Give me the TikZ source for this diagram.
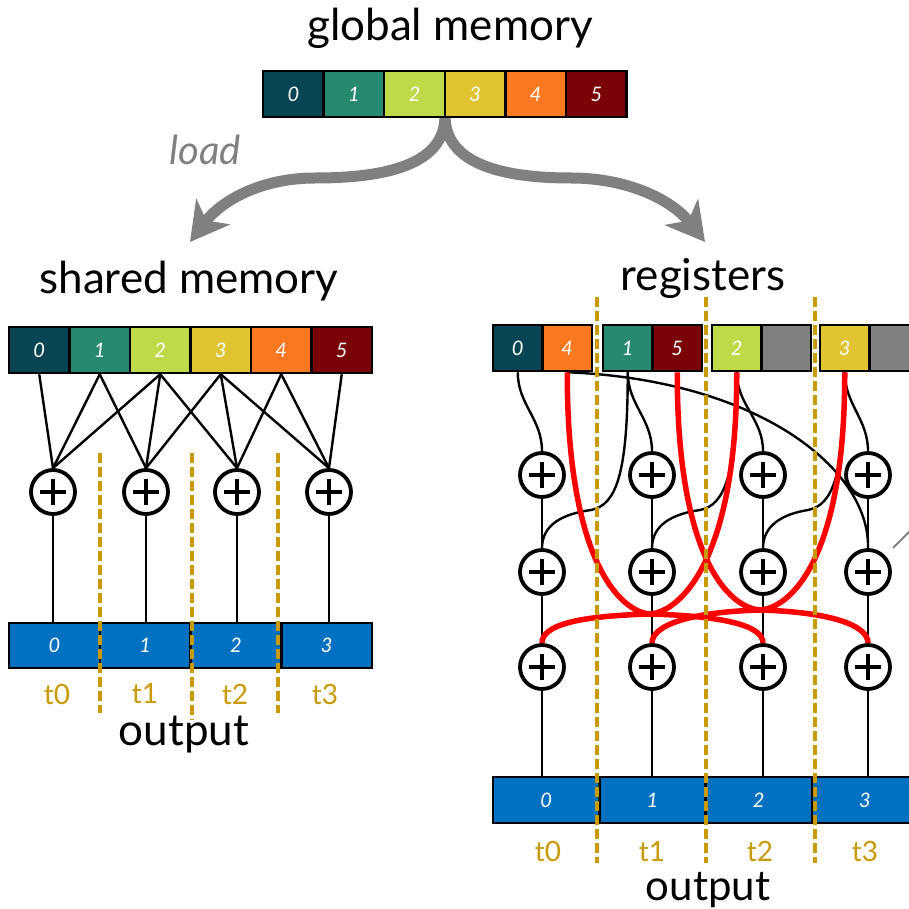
\documentclass[tikz,border=0pt]{standalone}
\usepackage{fontspec}
\setmainfont{Lato}
\usetikzlibrary{arrows.meta}
\definecolor{c0}{HTML}{084554}
\definecolor{c1}{HTML}{278A70}
\definecolor{c2}{HTML}{BEDA48}
\definecolor{c3}{HTML}{E0C431}
\definecolor{c4}{HTML}{FC7821}
\definecolor{c5}{HTML}{7A0308}
\definecolor{outblue}{HTML}{0070C0}
\definecolor{gold}{HTML}{C89A06}
\definecolor{midgray}{HTML}{808080}
\pgfdeclarelayer{back}
\pgfdeclarelayer{front}
\pgfsetlayers{back,main,front}
\tikzset{
  cell/.style={draw=black, line width=2.5pt, minimum width=60.6pt, minimum height=46pt, inner sep=0pt,
    font=\fontsize{20}{20}\selectfont\itshape, text=white},
  rcell/.style={cell, minimum width=49.5pt},
  ocell/.style={cell, fill=outblue},
  title/.style={font=\fontsize{44}{44}\selectfont, text=black, inner sep=0pt},
  tlabel/.style={font=\fontsize{28}{28}\selectfont, text=gold, inner sep=0pt},
  plusnode/.style={circle, draw=black, fill=white, line width=3.8pt, minimum size=44pt, inner sep=0pt,
    path picture={\draw[line width=3.8pt]
      ([xshift=-13pt]path picture bounding box.center) -- ([xshift=13pt]path picture bounding box.center)
      ([yshift=-13pt]path picture bounding box.center) -- ([yshift=13pt]path picture bounding box.center);}},
  wire/.style={draw=black, line width=2.4pt},
  redwire/.style={draw=red, line width=5.5pt},
  tdash/.style={draw=gold, line width=3.5pt, dash pattern=on 9.5pt off 4.5pt},
  loadarrow/.style={draw=midgray, line width=11pt, -{Stealth[length=38pt,width=42pt,inset=11pt]}}
}
\begin{document}
\begin{tikzpicture}[x=1pt,y=-1pt]
\useasboundingbox (0,0) rectangle (909,909);
\clip (0,0) rectangle (909,909);

% titles
\node[title] (tglob) at (450,28) {global memory};
\node[title] (tshared) at (189,281) {shared memory};
\node[title] (treg) at (703,278) {registers};
\node[title] (toutl) at (184,735) {output};
\node[title, font=\fontsize{42}{42}\selectfont, anchor=base] (toutr) at (708,900) {output};
\node[font=\fontsize{40}{40}\selectfont\itshape, text=midgray] (tload) at (205,150) {load};

% global memory
\foreach \i in {0,...,5}{
  \node[cell, fill=c\i] (g\i) at ({263+60.6*(\i+0.5)},94) {\i};
}
% shared memory
\foreach \i in {0,...,5}{
  \node[cell, fill=c\i] (s\i) at ({9+60.5*(\i+0.5)},350) {\i};
}
% registers
\node[rcell, fill=c0] (rv0) at (517.75,348) {0};
\node[rcell, fill=c4] (rv4) at (567.25,348) {4};
\node[rcell, fill=c1] (rv1) at (627.75,348) {1};
\node[rcell, fill=c5] (rv5) at (677.25,348) {5};
\node[rcell, fill=c2] (rv2) at (736.75,348) {2};
\node[rcell, fill=midgray] (rvx) at (786.25,348) {};
\node[rcell, fill=c3] (rv3) at (844.75,348) {3};
\node[rcell, fill=midgray] (rvy) at (894.25,348) {};

% left output
\foreach \i in {0,...,3}{
  \node[ocell, minimum width=90.75pt, minimum height=45pt] (ol\i) at ({9+90.75*(\i+0.5)},645.5) {\i};
}
% right output
\foreach \i in {0,...,3}{
  \node[ocell, minimum width=106.25pt] (or\i) at ({493+106.25*(\i+0.5)},800) {\i};
}

% left plus nodes
\node[plusnode] (p0) at (53,492) {};
\node[plusnode] (p1) at (146,492) {};
\node[plusnode] (p2) at (237,492) {};
\node[plusnode] (p3) at (329,492) {};

% right plus nodes
\foreach \r/\y in {1/475,2/572,3/667}{
  \node[plusnode] (r\r0) at (542,\y) {};
  \node[plusnode] (r\r1) at (652,\y) {};
  \node[plusnode] (r\r2) at (763,\y) {};
  \node[plusnode] (r\r3) at (868,\y) {};
}

% thread labels
\node[tlabel] (lt0) at (57,694) {t0};
\node[tlabel] (lt1) at (145,694) {t1};
\node[tlabel] (lt2) at (235,694) {t2};
\node[tlabel] (lt3) at (325,694) {t3};
\node[tlabel, anchor=base] (rt0) at (548,861) {t0};
\node[tlabel, anchor=base] (rt1) at (652,861) {t1};
\node[tlabel, anchor=base] (rt2) at (760,861) {t2};
\node[tlabel, anchor=base] (rt3) at (865,861) {t3};

\begin{pgfonlayer}{back}
% load arrows
\draw[loadarrow] (445,116) .. controls (445,165) and (385,178) .. (315,178) .. controls (262,178) and (222,200) .. (190,242);
\draw[loadarrow] (445,116) .. controls (445,165) and (505,178) .. (571,178) .. controls (628,178) and (672,200) .. (705,242);

% left wires
\foreach \c/\a/\b/\d in {0/0/1/2, 1/1/2/3, 2/2/3/4, 3/3/4/5}{
  \draw[wire] (s\a.south) -- (p\c.north);
  \draw[wire] (s\b.south) -- (p\c.north);
  \draw[wire] (s\d.south) -- (p\c.north);
  \draw[wire] (p\c.south) -- (p\c.south |- ol\c.north);
}

% right wires: registers to row 1
\draw[wire] (rv0.south) to[out=-90,in=90] (r10.north);
\draw[wire] (rv1.south) to[out=-90,in=90] (r11.north);
\draw[wire] (rv2.south) to[out=-90,in=90] (r12.north);
\draw[wire] (rv3.south) to[out=-90,in=90] (r13.north);
% verticals
\foreach \k in {0,...,3}{
  \draw[wire] (r1\k.south) -- (r2\k.north);
  \draw[wire] (r2\k.south) -- (r3\k.north);
  \draw[wire] (r3\k.south) -- (r3\k.south |- or\k.north);
}
% registers to row 2
\draw[wire] (rv1.south) .. controls (627.75,475) and (616,505) .. (591,510) .. controls (562,514) and (542,525) .. (r20.north);
\draw[wire] (rv2.south) .. controls (736.75,475) and (725,505) .. (700,510) .. controls (672,514) and (652,525) .. (r21.north);
\draw[wire] (rv3.south) .. controls (844.75,475) and (833,505) .. (808,510) .. controls (783,514) and (763,525) .. (r22.north);
\draw[wire] (rv4.south) .. controls (760,380) and (870,470) .. (r23.north);

% red shuffles
\draw[redwire] (rv4.south) .. controls (567,560) and (620,612) .. (650,614) .. controls (722,616) and (763,625) .. (r32.north);
\draw[redwire] (rv2.south) .. controls (737,560) and (680,612) .. (650,614) .. controls (578,616) and (542,625) .. (r30.north);
\draw[redwire] (rv5.south) .. controls (677,560) and (730,608) .. (760,610) .. controls (830,612) and (868,625) .. (r33.north);
\draw[redwire] (rv3.south) .. controls (845,560) and (790,608) .. (760,610) .. controls (690,612) and (652,625) .. (r31.north);
\end{pgfonlayer}

\begin{pgfonlayer}{front}
\draw[tdash] (100,453) -- (100,713);
\draw[tdash] (192,453) -- (192,720);
\draw[tdash] (278,453) -- (278,713);
\draw[tdash] (597,297) -- (597,863);
\draw[tdash] (706,297) -- (706,863);
\draw[tdash] (815,297) -- (815,863);
\draw[midgray, line width=2pt] (893,548) -- (915,526);
\end{pgfonlayer}
\end{tikzpicture}
\end{document}
